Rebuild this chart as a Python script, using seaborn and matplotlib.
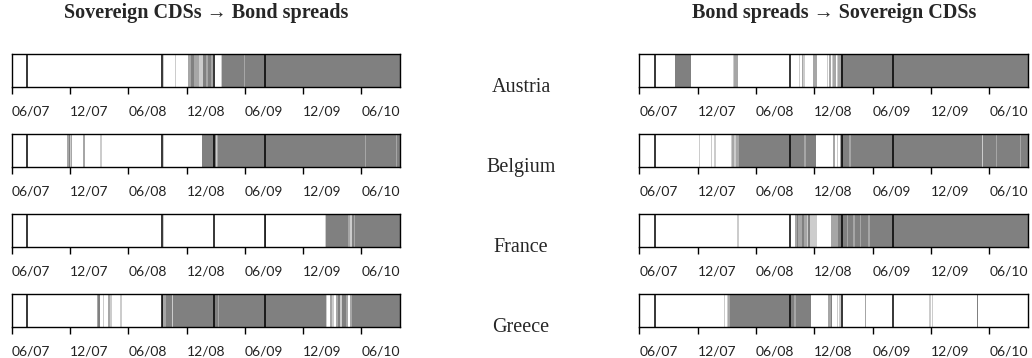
import matplotlib
matplotlib.use("Agg")
import matplotlib.pyplot as plt
import seaborn as sns

# x axis: months since June 2007
tick_pos = [0, 6, 12, 18, 24, 30, 36]
tick_labels = ["06/07", "12/07", "06/08", "12/08", "06/09", "12/09", "06/10"]
x_end = 40

# structural break dates (black lines in every strip)
breaks = [1.6, 15.5, 20.85, 26.1]

countries = ["Austria", "Belgium", "France", "Greece"]
titles = ["Sovereign CDSs \u2192 Bond spreads", "Bond spreads \u2192 Sovereign CDSs"]

# regime segments: (start month, end month, shade 0=white 1=light 2=mid 3=dark)
austria_cds_bond = [
    (15.55, 15.65, 1), (16.8, 16.94, 1), (18.1, 18.41, 2), (18.41, 18.75, 3),
    (18.75, 19.27, 2), (19.27, 19.71, 1), (19.71, 19.99, 3), (19.99, 20.23, 2),
    (20.23, 20.5, 3), (20.5, 20.74, 2), (21.53, 21.67, 1), (21.67, 40, 3),
    (23.89, 24.0, 2),
]
belgium_cds_bond = [
    (5.72, 5.85, 2), (5.85, 6.0, 3), (6.0, 6.1, 1), (6.1, 6.2, 2),
    (7.34, 7.51, 2), (9.12, 9.29, 1), (15.56, 15.63, 1), (19.61, 40, 3),
    (21.0, 21.1, 1), (21.1, 21.25, 2), (36.4, 36.5, 2), (39.6, 39.7, 2),
]
france_cds_bond = [
    (15.56, 15.63, 1), (26.1, 26.2, 2), (32.23, 32.36, 1), (32.36, 40, 3),
    (34.62, 34.8, 2), (34.8, 35.04, 1), (35.2, 35.3, 2), (35.7, 35.8, 2),
]
greece_cds_bond = [
    (8.74, 8.9, 2), (8.9, 9.1, 3), (9.43, 9.53, 1), (9.87, 10.11, 2),
    (10.11, 10.28, 1), (11.14, 11.31, 1), (15.5, 40, 3), (15.55, 15.9, 2),
    (16.45, 16.6, 1), (21.25, 21.36, 2),
    (32.33, 32.5, 1), (32.5, 32.74, 0), (32.74, 32.95, 2), (32.95, 33.15, 1),
    (33.15, 33.36, 0), (33.36, 33.6, 2), (33.84, 34.04, 1), (34.45, 34.66, 2),
    (34.66, 34.8, 0), (34.8, 35.0, 2),
]

austria_bond_cds = [
    (3.67, 5.28, 3), (9.6, 9.77, 1), (9.77, 10.18, 2), (16.42, 16.52, 1),
    (16.7, 16.87, 2), (16.87, 17.07, 1), (17.9, 18.31, 2), (19.27, 19.44, 1),
    (19.51, 19.68, 2), (19.78, 19.95, 1), (19.95, 20.23, 2), (20.3, 20.47, 1),
    (20.47, 20.75, 2), (20.75, 40, 3),
]
belgium_bond_cds = [
    (6.14, 6.24, 1), (7.37, 7.51, 1), (7.68, 7.85, 1), (9.39, 9.53, 1),
    (9.53, 9.74, 2), (9.74, 9.94, 1), (9.94, 10.28, 2), (10.28, 18.14, 3),
    (16.97, 17.14, 2), (19.95, 20.12, 2), (20.3, 20.47, 1), (20.64, 40, 3),
    (20.64, 20.88, 2), (21.6, 21.73, 2), (35.28, 35.38, 1), (36.65, 36.75, 2),
    (39.15, 39.29, 2),
]
france_bond_cds = [
    (10.08, 10.22, 1), (16.01, 16.18, 2), (16.18, 16.35, 3), (16.35, 16.7, 2),
    (16.7, 16.94, 3), (16.94, 17.21, 2), (17.21, 17.38, 1), (17.38, 17.55, 3),
    (17.55, 17.83, 1), (17.9, 18.24, 1), (19.68, 20.47, 2), (20.47, 40, 3),
    (21.32, 21.46, 2), (22.0, 22.15, 2), (22.7, 22.83, 2), (23.55, 23.69, 2),
]
greece_bond_cds = [
    (8.71, 8.85, 1), (8.98, 9.15, 1), (9.15, 9.32, 2), (9.32, 17.65, 3),
    (15.91, 16.08, 2), (19.44, 19.68, 2), (19.68, 19.85, 3), (20.36, 20.47, 1),
    (20.54, 20.71, 1), (23.21, 23.31, 2), (29.83, 29.96, 1), (30.1, 30.24, 1),
    (34.69, 34.87, 3),
]

left_panels = [austria_cds_bond, belgium_cds_bond, france_cds_bond, greece_cds_bond]
right_panels = [austria_bond_cds, belgium_bond_cds, france_bond_cds, greece_bond_cds]

shades = {0: "white", 1: "#cccccc", 2: "#a6a6a6", 3: "#808080"}

sns.set_theme(style="ticks")
plt.rcParams["font.family"] = ["Lato", "DejaVu Sans"]

W, H = 1032, 358
fig = plt.figure(figsize=(W / 100, H / 100), dpi=100)

col_x = [(11.7, 400.3), (639.3, 1028.3)]
row_top = [54, 134, 214, 294]
box_h = 33


def draw_strip(ax, segments):
    for start, end, shade in segments:
        ax.axvspan(start, end, color=shades[shade], lw=0)
    sns.rugplot(x=breaks, height=1, ax=ax, color="black", linewidth=1.1,
                expand_margins=False)
    ax.set_xlim(0, x_end)
    ax.set_ylim(0, 1)
    ax.set_yticks([])
    ax.set_xticks(tick_pos)
    ax.set_xticklabels(tick_labels, ha="left")
    ax.tick_params(axis="x", direction="out", length=5, width=1, color="black",
                   pad=8, labelsize=10, labelcolor="#222222")
    for sp in ax.spines.values():
        sp.set_visible(True)
        sp.set_color("black")
        sp.set_linewidth(1)


for c, panels in enumerate([left_panels, right_panels]):
    x0, x1 = col_x[c]
    for r, segs in enumerate(panels):
        ax = fig.add_axes([x0 / W, 1 - (row_top[r] + box_h) / H,
                           (x1 - x0) / W, box_h / H])
        draw_strip(ax, segs)
    fig.text((x0 + x1) / 2 / W, 1 - 13 / H, titles[c], ha="center", va="center",
             family="Liberation Serif", weight="bold", fontsize=14.5)

for r, name in enumerate(countries):
    fig.text(521 / W, 1 - (88 + 80 * r) / H, name, ha="center", va="center",
             family="Liberation Serif", fontsize=14.5)

fig.savefig("out.png", dpi=100)
